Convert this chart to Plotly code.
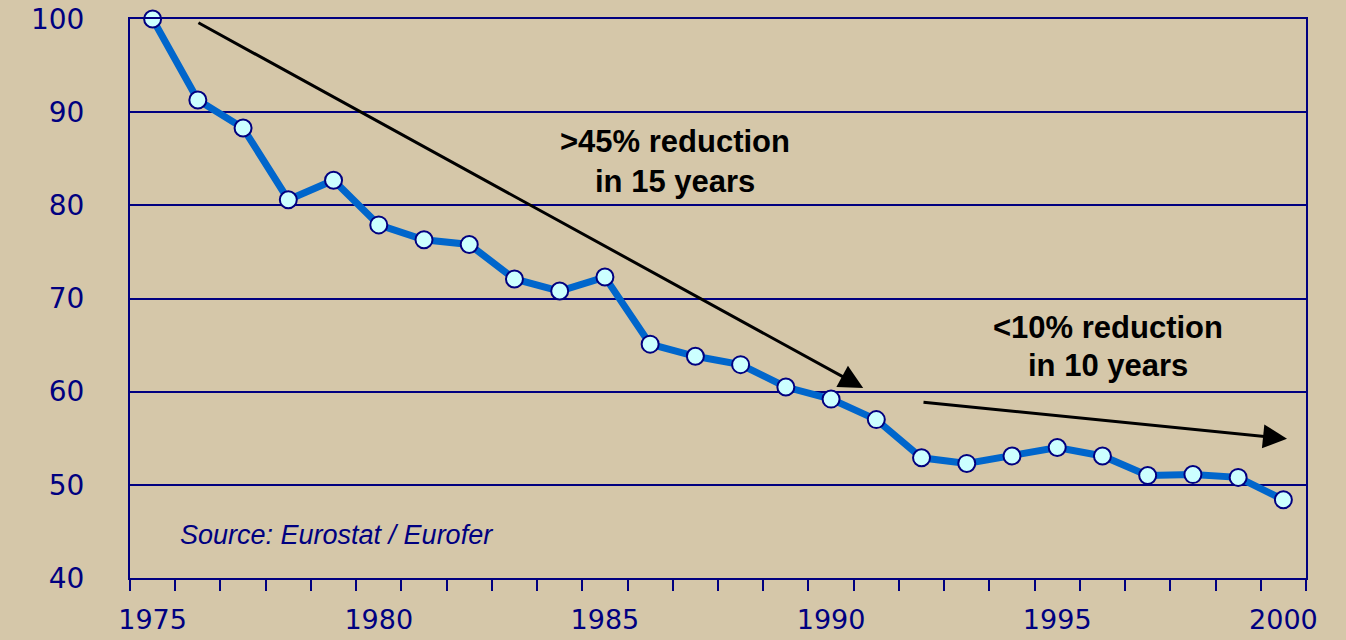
import plotly.graph_objects as go

years = list(range(1975, 2001))
values = [100, 91.3, 88.3, 80.6, 82.7, 77.9, 76.3, 75.8, 72.1, 70.8, 72.3, 65.1,
          63.8, 62.9, 60.5, 59.2, 57.0, 52.9, 52.3, 53.1, 54.0, 53.1, 51.0, 51.1,
          50.8, 48.4]
x_tick_labels = [1975, 1980, 1985, 1990, 1995, 2000]
y_tick_labels = [40, 50, 60, 70, 80, 90, 100]

NAVY = "#000080"
BG = "#D5C7A9"

fig = go.Figure()
fig.add_trace(go.Scatter(
    x=years, y=values, mode="lines+markers",
    line=dict(color="#0066CC", width=7),
    marker=dict(symbol="circle", size=17, color="#CCFFFF",
                line=dict(color=NAVY, width=2)),
    showlegend=False, cliponaxis=False,
))

fig.update_layout(
    width=1346, height=640,
    paper_bgcolor=BG, plot_bgcolor=BG,
    margin=dict(l=130, r=40, t=19, b=62, pad=0),
    xaxis=dict(
        range=[1974.5, 2000.5], tickvals=x_tick_labels,
        ticktext=[str(v) for v in x_tick_labels],
        ticks="", showgrid=False, zeroline=False, automargin=False,
        showline=True, linecolor=NAVY, linewidth=2, mirror=True,
        tickfont=dict(family="DejaVu Sans", size=27, color=NAVY),
        ticklabelstandoff=17,
        minor=dict(tickvals=[1974.5 + i for i in range(27)], ticks="outside",
                   ticklen=11, tickwidth=2, tickcolor=NAVY, showgrid=False),
    ),
    yaxis=dict(
        range=[40, 100], tickvals=y_tick_labels, ticks="", automargin=False,
        showgrid=True, gridcolor=NAVY, gridwidth=2, zeroline=False,
        showline=True, linecolor=NAVY, linewidth=2, mirror=True,
        tickfont=dict(family="DejaVu Sans", size=28, color=NAVY),
        ticklabelstandoff=38,
    ),
)

bold = dict(family="Liberation Sans, Arial", size=31, color="black", weight="bold")
fig.add_annotation(x=1986.55, y=86.9, text="<b>>45% reduction</b>", showarrow=False,
                   font=bold)
fig.add_annotation(x=1986.55, y=82.6, text="<b>in 15 years</b>", showarrow=False,
                   font=bold)
fig.add_annotation(x=1996.12, y=66.94, text="<b><10% reduction</b>", showarrow=False,
                   font=bold)
fig.add_annotation(x=1996.12, y=62.86, text="<b>in 10 years</b>", showarrow=False,
                   font=bold)
fig.add_annotation(x=1975.56, y=44.62, text="<i>Source: Eurostat / Eurofer</i>",
                   showarrow=False, xanchor="left",
                   font=dict(family="Liberation Sans, Arial", size=27, color=NAVY))

arrow = dict(showarrow=True, arrowhead=2, arrowsize=1.6, arrowwidth=3,
             arrowcolor="black", axref="x", ayref="y", text="")
fig.add_annotation(x=1990.71, y=60.4, ax=1975.98, ay=99.68, **arrow)
fig.add_annotation(x=2000.08, y=54.95, ax=1992.01, ay=58.89, **arrow)

fig.write_html(
    "out.html",
    config={"displayModeBar": False},
    post_script="document.body.style.margin='0';document.body.style.background='%s';" % BG,
)
